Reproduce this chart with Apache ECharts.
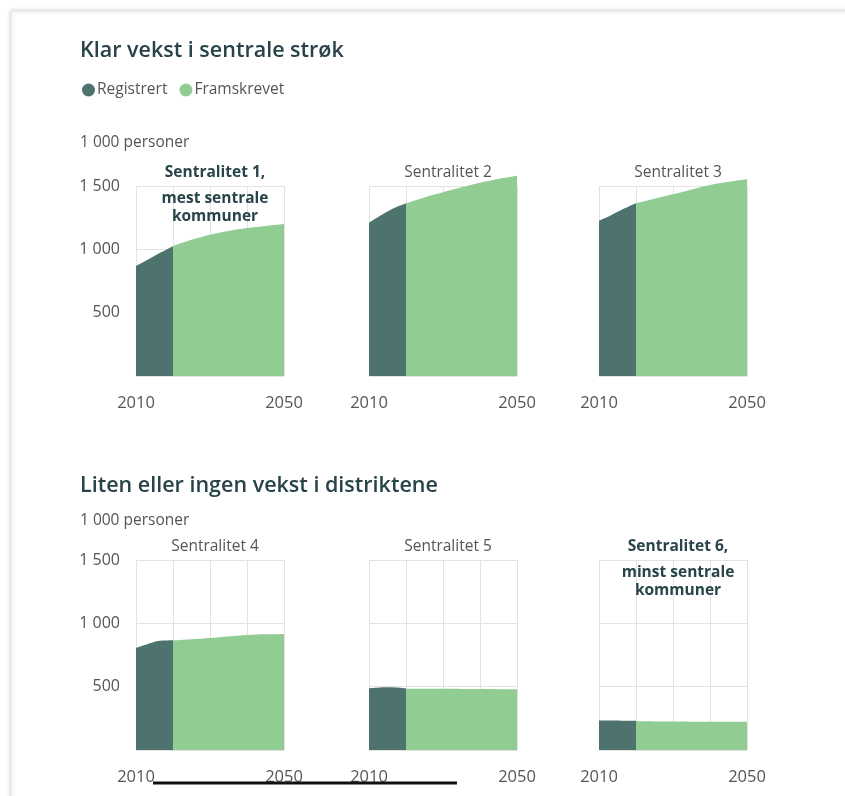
<!DOCTYPE html>
<html>
<head>
<meta charset="utf-8">
<script src="https://cdn.jsdelivr.net/npm/echarts@6/dist/echarts.min.js"></script>
<style>
  html, body { margin: 0; padding: 0; background: #fff; }
  #chart { width: 845px; height: 796px; }
</style>
</head>
<body>
<div id="chart"></div>
<script>
// Befolkning etter sentralitet, 1 000 personer
const regYears = [2010, 2013, 2016, 2020];
const projYears = [2020, 2025, 2030, 2035, 2040, 2045, 2050];

const panelNames = ['Sentralitet 1,', 'Sentralitet 2', 'Sentralitet 3', 'Sentralitet 4', 'Sentralitet 5', 'Sentralitet 6,'];
const panelSubs = ['mest sentrale\nkommuner', '', '', '', '', 'minst sentrale\nkommuner'];

const registrert = [
    [868, 915, 965, 1025],
    [1210, 1265, 1315, 1363],
    [1226, 1265, 1310, 1363],
    [807, 835, 860, 866],
    [488, 494, 495, 486],
    [232, 232, 231, 230]
];
const framskrevet = [
    [1025, 1075, 1115, 1145, 1168, 1185, 1200],
    [1363, 1410, 1450, 1490, 1526, 1556, 1580],
    [1363, 1400, 1434, 1472, 1508, 1533, 1553],
    [866, 875, 885, 897, 908, 913, 916],
    [484, 484, 483, 482, 481, 480, 480],
    [226, 225, 225, 224, 224, 224, 224]
];

const yTicks = [0, 500, 1000, 1500];
const xTickLabels = [2010, 2050];

const DARK = '#4e736f';
const GREEN = '#91cc93';
const INK = '#274449';
const GREY = '#555';
const FONT = 'Open Sans';

const colLeft = [136, 369, 599];
const rowTop = [186, 560];

const chart = echarts.init(document.getElementById('chart'));

const grids = [], xAxes = [], yAxes = [], series = [], titles = [];
panelNames.forEach((name, i) => {
    const col = i % 3, row = Math.floor(i / 3);
    const left = colLeft[col], top = rowTop[row];
    grids.push({ left, top, width: 148, height: 190 });
    xAxes.push({
        type: 'value', gridIndex: i, min: 2010, max: 2050, interval: 10,
        axisLine: { show: false }, axisTick: { show: false },
        splitLine: { show: true, lineStyle: { color: '#e2e2e2' } },
        axisLabel: {
            margin: 19, fontSize: 16.5, color: GREY, fontFamily: FONT,
            formatter: v => xTickLabels.includes(v) ? String(v) : ''
        }
    });
    yAxes.push({
        type: 'value', gridIndex: i, min: yTicks[0], max: yTicks[yTicks.length - 1], interval: 500,
        axisLine: { show: false }, axisTick: { show: false },
        splitLine: { show: true, lineStyle: { color: '#e2e2e2' } },
        axisLabel: {
            show: col === 0, margin: 16, fontSize: 16, color: GREY, fontFamily: FONT,
            formatter: v => v === 0 ? '' : String(v).replace(/\B(?=(\d{3})+(?!\d))/g, ' ')
        }
    });
    const mk = (sname, years, vals, color) => ({
        name: sname, type: 'line', xAxisIndex: i, yAxisIndex: i,
        data: years.map((y, k) => [y, vals[k]]),
        symbol: 'none', smooth: 0.3, clip: false,
        lineStyle: { width: 0 }, itemStyle: { color },
        areaStyle: { color, opacity: 1 }
    });
    series.push(mk('Registrert', regYears, registrert[i], DARK));
    series.push(mk('Framskrevet', projYears, framskrevet[i], GREEN));

    const bold = panelSubs[i] !== '';
    titles.push({
        text: name, left: left + 74, top: top - 26, textAlign: 'center',
        textStyle: { fontSize: 15.5, fontWeight: bold ? 'bold' : 'normal', color: bold ? INK : GREY, fontFamily: FONT }
    });
    if (bold) {
        titles.push({
            text: panelSubs[i], left: left + 74, top: top - 1, textAlign: 'center',
            textStyle: { fontSize: 15.5, fontWeight: 'bold', color: INK, fontFamily: FONT, lineHeight: 18 }
        });
    }
});

titles.push(
    { text: 'Klar vekst i sentrale strøk', left: 75, top: 35, textStyle: { fontSize: 21.5, fontWeight: 600, color: INK, fontFamily: FONT } },
    { text: '1 000 personer', left: 75, top: 130, textStyle: { fontSize: 15.5, fontWeight: 'normal', color: GREY, fontFamily: FONT } },
    { text: 'Liten eller ingen vekst i distriktene', left: 75, top: 470, textStyle: { fontSize: 21.5, fontWeight: 600, color: INK, fontFamily: FONT } },
    { text: '1 000 personer', left: 75, top: 508, textStyle: { fontSize: 15.5, fontWeight: 'normal', color: GREY, fontFamily: FONT } }
);

chart.setOption({
    backgroundColor: '#fff',
    animation: false,
    title: titles,
    legend: {
        data: ['Registrert', 'Framskrevet'], left: 77, top: 77, icon: 'circle',
        itemWidth: 13, itemHeight: 13, itemGap: 12,
        textStyle: { fontSize: 15.5, color: GREY, fontFamily: FONT, padding: [0, 0, 0, -3] }
    },
    grid: grids,
    xAxis: xAxes,
    yAxis: yAxes,
    series,
    graphic: [
        { type: 'rect', shape: { x: 11, y: 11, width: 900, height: 900 }, silent: true, z: -10,
          style: { fill: '#fff', stroke: '#e4e4e4', lineWidth: 1, shadowBlur: 4, shadowColor: 'rgba(0,0,0,0.18)' } },
        { type: 'line', shape: { x1: 153, y1: 783, x2: 457, y2: 783 }, silent: true, z: 100,
          style: { stroke: '#111', lineWidth: 3 } }
    ]
});
</script>
</body>
</html>
